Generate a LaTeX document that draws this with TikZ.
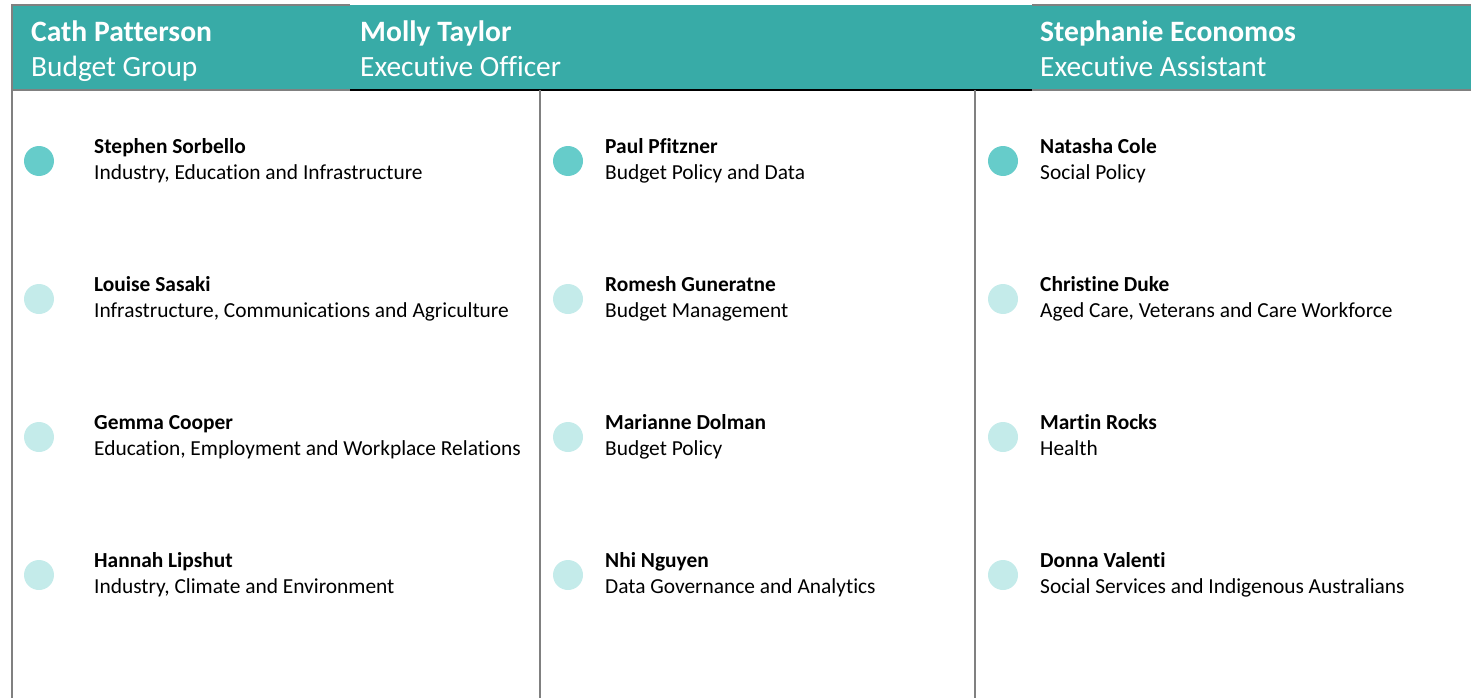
\documentclass[tikz,border=0pt]{standalone}
\usepackage{fontspec}
\setmainfont{Carlito}[Ligatures=NoCommon]
\usepackage{tikz}
\usepackage{xcolor}
\usetikzlibrary{calc}
\definecolor{headteal}{HTML}{38ABA7}
\definecolor{dotdark}{HTML}{66CCCA}
\definecolor{dotlight}{HTML}{C4EBEA}
\definecolor{rulegray}{HTML}{808080}
\tikzstyle{headcell} =[
    fill=headteal,
    minimum height=85pt,
    inner sep=0pt,
    outer sep=0pt,
    anchor=north west
    ]
\tikzstyle{headname} =[
    anchor=base west,
    inner sep=0pt,
    text=white,
    font=\fontsize{29.6}{34}\selectfont\bfseries
    ]
\tikzstyle{headrole} =[
    anchor=base west,
    inner sep=0pt,
    text=white,
    font=\fontsize{29.4}{34}\selectfont
    ]
\tikzstyle{staffname} =[
    anchor=base west,
    inner sep=0pt,
    font=\fontsize{21.4}{25}\selectfont\bfseries
    ]
\tikzstyle{staffrole} =[
    anchor=base west,
    inner sep=0pt,
    font=\fontsize{21.4}{25}\selectfont
    ]
\tikzstyle{dot} =[circle, inner sep=0pt, minimum size=30pt]
\tikzstyle{divider} =[draw=rulegray, line width=1.5pt]

\begin{document}
\begin{tikzpicture}[x=1pt,y=-1pt]
\useasboundingbox (0,0) rectangle (1471,698);
% header band
\node[headcell, minimum width=338pt] (cellA) at (12,5) {};
\node[headcell, minimum width=682pt] (cellB) at (cellA.north east) {};
\node[headcell, minimum width=439pt] (cellC) at (cellB.north east) {};
\coordinate (baseA) at (12,698);
\coordinate (topB) at (540,90);
\coordinate (baseB) at (540,698);
\coordinate (topC) at (975,90);
\coordinate (baseC) at (975,698);
\draw[divider] (baseA) -- (cellA.north west) -- (cellA.north east);
\draw[divider] (cellA.south west) -- (cellA.south east);
\draw[black, line width=1.5pt] (cellB.south west) -- (cellB.south east);
\draw[divider] (cellC.north west) -- (cellC.north east);
\draw[divider] (cellC.south west) -- (cellC.south east);
\draw[divider] (topB) -- (baseB);
\draw[divider] (topC) -- (baseC);

\node[headname] (pattersonName) at (31,42) {Cath Patterson};
\node[headrole] (pattersonRole) at (31,77) {Budget Group};
\node[headname] (taylorName) at (360,42) {Molly Taylor};
\node[headrole] (taylorRole) at (360,77) {Executive Officer};
\node[headname] (economosName) at (1040,42) {Stephanie Economos};
\node[headrole] (economosRole) at (1040,77) {Executive Assistant};

% first column
\node[dot, fill=dotdark] (sorbelloDot) at (39,161) {};
\node[staffname] (sorbelloName) at ($(sorbelloDot)+(55,-7.5)$) {Stephen Sorbello};
\node[staffrole] (sorbelloRole) at ($(sorbelloName.base west)+(0,26)$) {Industry, Education and Infrastructure};

\node[dot, fill=dotlight] (sasakiDot) at (39,299) {};
\node[staffname] (sasakiName) at ($(sasakiDot)+(55,-7.5)$) {Louise Sasaki};
\node[staffrole] (sasakiRole) at ($(sasakiName.base west)+(0,26)$) {Infrastructure, Communications and Agriculture};

\node[dot, fill=dotlight] (cooperDot) at (39,437) {};
\node[staffname] (cooperName) at ($(cooperDot)+(55,-7.5)$) {Gemma Cooper};
\node[staffrole] (cooperRole) at ($(cooperName.base west)+(0,26)$) {Education, Employment and Workplace Relations};

\node[dot, fill=dotlight] (lipshutDot) at (39,575) {};
\node[staffname] (lipshutName) at ($(lipshutDot)+(55,-7.5)$) {Hannah Lipshut};
\node[staffrole] (lipshutRole) at ($(lipshutName.base west)+(0,26)$) {Industry, Climate and Environment};

% second column
\node[dot, fill=dotdark] (pfitznerDot) at (568,161) {};
\node[staffname] (pfitznerName) at ($(pfitznerDot)+(37,-7.5)$) {Paul Pfitzner};
\node[staffrole] (pfitznerRole) at ($(pfitznerName.base west)+(0,26)$) {Budget Policy and Data};

\node[dot, fill=dotlight] (guneratneDot) at (568,299) {};
\node[staffname] (guneratneName) at ($(guneratneDot)+(37,-7.5)$) {Romesh Guneratne};
\node[staffrole] (guneratneRole) at ($(guneratneName.base west)+(0,26)$) {Budget Management};

\node[dot, fill=dotlight] (dolmanDot) at (568,437) {};
\node[staffname] (dolmanName) at ($(dolmanDot)+(37,-7.5)$) {Marianne Dolman};
\node[staffrole] (dolmanRole) at ($(dolmanName.base west)+(0,26)$) {Budget Policy};

\node[dot, fill=dotlight] (nguyenDot) at (568,575) {};
\node[staffname] (nguyenName) at ($(nguyenDot)+(37,-7.5)$) {Nhi Nguyen};
\node[staffrole] (nguyenRole) at ($(nguyenName.base west)+(0,26)$) {Data Governance and Analytics};

% third column
\node[dot, fill=dotdark] (coleDot) at (1003,161) {};
\node[staffname] (coleName) at ($(coleDot)+(37,-7.5)$) {Natasha Cole};
\node[staffrole] (coleRole) at ($(coleName.base west)+(0,26)$) {Social Policy};

\node[dot, fill=dotlight] (dukeDot) at (1003,299) {};
\node[staffname] (dukeName) at ($(dukeDot)+(37,-7.5)$) {Christine Duke};
\node[staffrole] (dukeRole) at ($(dukeName.base west)+(0,26)$) {Aged Care, Veterans and Care Workforce};

\node[dot, fill=dotlight] (rocksDot) at (1003,437) {};
\node[staffname] (rocksName) at ($(rocksDot)+(37,-7.5)$) {Martin Rocks};
\node[staffrole] (rocksRole) at ($(rocksName.base west)+(0,26)$) {Health};

\node[dot, fill=dotlight] (valentiDot) at (1003,575) {};
\node[staffname] (valentiName) at ($(valentiDot)+(37,-7.5)$) {Donna Valenti};
\node[staffrole] (valentiRole) at ($(valentiName.base west)+(0,26)$) {Social Services and Indigenous Australians};
\end{tikzpicture}
\end{document}
